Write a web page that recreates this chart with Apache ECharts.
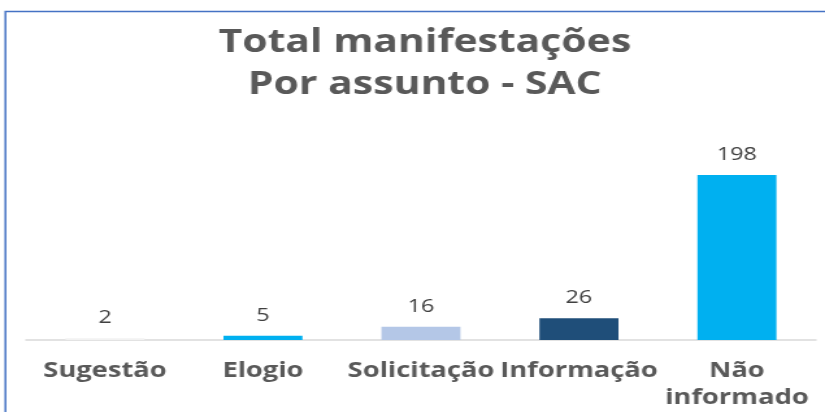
<!DOCTYPE html>
<html><head><meta charset="utf-8">
<script src="https://cdn.jsdelivr.net/npm/echarts@6/dist/echarts.min.js"></script>
<style>html,body{margin:0;padding:0;background:#fff;overflow:hidden}
#c{width:635px;height:412px;transform:scaleX(1.2992);transform-origin:0 0}</style>
</head><body><div id="c"></div>
<script>
const categories = ['Sugestão', 'Elogio', 'Solicitação', 'Informação', 'Não\ninformado'];
const values = [2, 5, 16, 26, 198];
const barColors = ['#f2f2f2', '#00B0F0', '#B4C7E7', '#1F4E79', '#00B0F0'];

const chart = echarts.init(document.getElementById('c'), null, {renderer: 'canvas'});
chart.setOption({
  backgroundColor: '#fff',
  animation: false,
  title: {
    text: 'Total manifestações\nPor assunto - SAC',
    left: 322, top: 17, textAlign: 'center',
    textStyle: {fontFamily: 'Open Sans', fontWeight: 'bold', fontSize: 31.5, color: '#595959', lineHeight: 42}
  },
  graphic: [{
    type: 'rect', shape: {x: 4.2, y: 11.5, width: 900, height: 500},
    style: {fill: 'none', stroke: '#4472C4', lineWidth: 1.5}, silent: true
  }],
  grid: {left: 20, right: 7, top: 175, bottom: 70},
  xAxis: {
    type: 'category', data: categories,
    axisLine: {lineStyle: {color: '#D9D9D9', width: 1.5}},
    axisTick: {show: false},
    axisLabel: {fontFamily: 'Open Sans', fontWeight: 'bold', fontSize: 21, color: '#595959', margin: 18, lineHeight: 27, interval: 0}
  },
  yAxis: {type: 'value', min: 0, max: 198, show: false, splitLine: {show: false}},
  series: [{
    type: 'bar', barWidth: '50%',
    data: values.map((v, i) => ({value: v, itemStyle: {color: barColors[i]}})),
    label: {show: true, position: 'top', distance: 11, fontFamily: 'Open Sans', fontSize: 18, color: '#404040'}
  }]
});
</script></body></html>
